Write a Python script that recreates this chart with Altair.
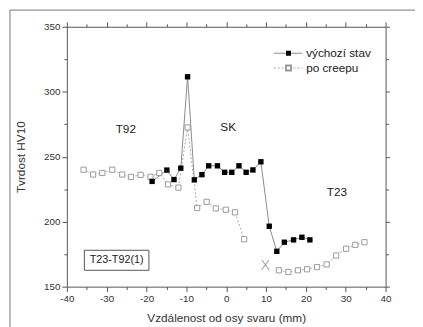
import altair as alt
import pandas as pd

# výchozí stav (filled squares)
x_vych = [-18.6, -14.9, -13.1, -11.4, -9.7, -8.0, -6.1, -4.4, -2.2, -0.4, 1.4,
          3.2, 5.0, 6.7, 8.7, 10.8, 12.7, 14.6, 16.9, 19.0, 21.0]
y_vych = [231, 239.7, 232.4, 241.2, 311.5, 232.2, 236.2, 243, 243, 238, 238,
          243, 238, 239.8, 246.1, 196.5, 177.2, 184.2, 186, 188, 186]

# po creepu (open squares), two segments
x_creep1 = [-35.8, -33.4, -31.1, -28.6, -26.1, -23.9, -21.5, -19.0, -16.8, -14.6,
            -12.0, -9.7, -7.3, -4.9, -2.6, -0.1, 2.2, 4.5]
y_creep1 = [240, 236.3, 237.5, 240, 236.3, 234.5, 236, 234.5, 237.5, 228.7,
            226.2, 272.5, 210.5, 215.3, 210.2, 209.2, 207.2, 186.5]
x_creep2 = [13.2, 15.6, 18.0, 20.3, 22.8, 25.2, 27.6, 30.1, 32.4, 34.7]
y_creep2 = [162.6, 161.3, 162.6, 163.4, 165.1, 167.1, 174, 179.2, 182.2, 184.2]

# annotations
ann_text = ["T92", "SK", "T23"]
ann_x = [-25.2, 0.5, 27.8]
ann_y = [271.5, 272.5, 222.5]
mark_x_text = ["X"]
mark_x_x = [9.8]
mark_x_y = [166.4]
box_text = "T23-T92(1)"
box_x = [-35.6, -19.4]
box_y = [162.6, 178.0]

FONT = "Liberation Sans"

df_v = pd.DataFrame({"x": x_vych, "y": y_vych})
df_c = pd.DataFrame({
    "x": x_creep1 + x_creep2,
    "y": y_creep1 + y_creep2,
    "seg": [1] * len(x_creep1) + [2] * len(x_creep2),
})
df_ann = pd.DataFrame({"t": ann_text, "x": ann_x, "y": ann_y})
df_xm = pd.DataFrame({"t": mark_x_text, "x": mark_x_x, "y": mark_x_y})
df_box = pd.DataFrame({"x": [box_x[0]], "x2": [box_x[1]], "y": [box_y[0]], "y2": [box_y[1]],
                       "xc": [(box_x[0] + box_x[1]) / 2], "yc": [(box_y[0] + box_y[1]) / 2],
                       "t": [box_text]})

xs = alt.Scale(domain=[-40, 40], nice=False)
ys = alt.Scale(domain=[150, 350], nice=False)

xticks = list(range(-40, 41, 5))
yticks = list(range(150, 351, 25))

def tsize(step, big, small):
    return {"condition": {"test": f"datum.value % {step} === 0", "value": big}, "value": small}

axis_common = dict(domainColor="#555", tickColor="#555", labelColor="#333",
                   labelFont=FONT, labelFontSize=10, titleFont=FONT, titleFontSize=12,
                   titleFontWeight="normal", titleColor="#333", grid=False,
                   labelOverlap=False, labelFlush=False)
axis_plain = {k: v for k, v in axis_common.items() if not k.startswith("title")}

x_bottom = alt.Axis(orient="bottom", values=xticks, tickSize=tsize(10, 5, 3),
                    labelExpr="datum.value % 10 === 0 ? '' + datum.value : ''",
                    title="Vzdálenost od osy svaru (mm)", titlePadding=10, labelPadding=2,
                    **axis_common)
y_left = alt.Axis(orient="left", values=yticks, tickSize=tsize(50, 5, 3),
                  labelExpr="datum.value % 50 === 0 ? '' + datum.value : ''",
                  title="Tvrdost HV10", titlePadding=16, labelPadding=2, **axis_common)
x_top = alt.Axis(orient="top", values=xticks, tickSize=tsize(10, 5, 3), labels=False,
                 title=None, **axis_plain)
y_right = alt.Axis(orient="right", values=yticks, tickSize=tsize(50, 4, 3), labels=False,
                   title=None, **axis_plain)

line_v = alt.Chart(df_v).mark_line(color="#8a8a8a", strokeWidth=1).encode(
    x=alt.X("x:Q", scale=xs, axis=x_bottom),
    y=alt.Y("y:Q", scale=ys, axis=y_left),
)
line_c = alt.Chart(df_c).mark_line(color="#a8a8a8", strokeWidth=1, strokeDash=[2, 2]).encode(
    x=alt.X("x:Q", scale=xs, axis=x_top),
    y=alt.Y("y:Q", scale=ys, axis=y_right),
    detail="seg:N",
)
pts_c = alt.Chart(df_c).mark_point(shape="square", filled=True, fill="white", stroke="#9a9a9a",
                                   strokeWidth=1, size=28, opacity=1).encode(
    x=alt.X("x:Q", scale=xs, axis=None),
    y=alt.Y("y:Q", scale=ys, axis=None),
)
pts_v = alt.Chart(df_v).mark_point(shape="square", filled=True, color="black", size=30,
                                   opacity=1).encode(
    x=alt.X("x:Q", scale=xs, axis=None),
    y=alt.Y("y:Q", scale=ys, axis=None),
)
ann = alt.Chart(df_ann).mark_text(font=FONT, fontSize=12, color="#222").encode(
    x=alt.X("x:Q", scale=xs, axis=None),
    y=alt.Y("y:Q", scale=ys, axis=None),
    text="t:N",
)
xm = alt.Chart(df_xm).mark_text(font="DejaVu Sans", fontSize=15, color="#777",
                                fontWeight=200).encode(
    x=alt.X("x:Q", scale=xs, axis=None),
    y=alt.Y("y:Q", scale=ys, axis=None),
    text="t:N",
)
box = alt.Chart(df_box).mark_rect(fill="white", stroke="#555", strokeWidth=1).encode(
    x=alt.X("x:Q", scale=xs, axis=None), x2="x2:Q",
    y=alt.Y("y:Q", scale=ys, axis=None), y2="y2:Q",
)
box_t = alt.Chart(df_box).mark_text(font=FONT, fontSize=11, color="#222").encode(
    x=alt.X("xc:Q", scale=xs, axis=None),
    y=alt.Y("yc:Q", scale=ys, axis=None),
    text="t:N",
)

# legend (pixel positions relative to plot area)
leg_df = pd.DataFrame({"lab": ["výchozí stav", "po creepu"], "row": [0, 1]})
base_leg = alt.Chart(leg_df)
leg_line1 = base_leg.transform_filter("datum.row == 0").mark_rule(color="#8a8a8a").encode(
    x=alt.value(211), x2=alt.value(240), y=alt.value(27))
leg_line2 = base_leg.transform_filter("datum.row == 1").mark_rule(color="#a8a8a8", strokeDash=[2, 2]).encode(
    x=alt.value(211), x2=alt.value(240), y=alt.value(42))
leg_pt1 = base_leg.transform_filter("datum.row == 0").mark_point(
    shape="square", filled=True, color="black", size=26, opacity=1).encode(
    x=alt.value(226), y=alt.value(27))
leg_pt2 = base_leg.transform_filter("datum.row == 1").mark_point(
    shape="square", filled=True, fill="white", stroke="#9a9a9a", size=26, opacity=1).encode(
    x=alt.value(226), y=alt.value(42))
leg_t1 = base_leg.transform_filter("datum.row == 0").mark_text(
    font=FONT, fontSize=12, color="#222", align="left", baseline="middle").encode(
    x=alt.value(244), y=alt.value(27), text="lab:N")
leg_t2 = base_leg.transform_filter("datum.row == 1").mark_text(
    font=FONT, fontSize=12, color="#222", align="left", baseline="middle").encode(
    x=alt.value(244), y=alt.value(42), text="lab:N")

# outer frame
frame_top = base_leg.transform_filter("datum.row == 0").mark_rule(color="#777").encode(
    x=alt.value(-58), x2=alt.value(400), y=alt.value(-17))
frame_left = base_leg.transform_filter("datum.row == 0").mark_rule(color="#777").encode(
    x=alt.value(-58), y=alt.value(-17), y2=alt.value(320))

chart = alt.layer(
    frame_top, frame_left,
    line_v, line_c, pts_c, pts_v, ann, xm, box, box_t,
    leg_line1, leg_line2, leg_pt1, leg_pt2, leg_t1, leg_t2,
).resolve_axis(x="independent", y="independent").properties(
    width=325, height=265,
    autosize=alt.AutoSizeParams(type="none"),
    padding={"left": 60, "top": 16, "right": 30, "bottom": 38},
    background="white",
).configure_view(stroke=None)

chart.save("out.html", embed_options={"renderer": "svg", "actions": False})
